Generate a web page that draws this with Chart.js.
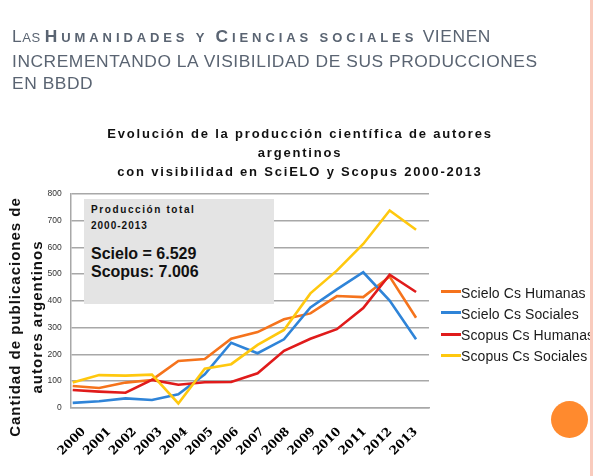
<!DOCTYPE html>
<html>
<head>
<meta charset="utf-8">
<script src="https://cdn.jsdelivr.net/npm/chart.js@4.4.0/dist/chart.umd.min.js"></script>
<style>
    html, body { margin: 0; padding: 0; background: #fff; }
    body { width: 593px; height: 476px; position: relative; overflow: hidden; font-family: "Liberation Sans", Arial, sans-serif; }
    #chart { position: absolute; left: 0; top: 0; }
    .abs { position: absolute; white-space: nowrap; line-height: 1; }
    .hdr { left: 12px; color: #5a6472; font-size: 17.4px; letter-spacing: 0.55px; }
    .hdr .sm { font-size: 13px; text-transform: uppercase; }
    .hdr b { letter-spacing: 3.9px; }
    .hdr .reg { letter-spacing: 0.6px; }
    .ttl { left: 100px; width: 400px; text-align: center; font-weight: bold; font-size: 13px; letter-spacing: 1.8px; color: #111; }
    #totals { position: absolute; left: 84px; top: 199px; width: 190px; height: 105px; background: #e4e4e4; }
    .box { font-weight: bold; color: #111; }
    #ytitle { position: absolute; left: -124px; top: 295px; width: 300px; height: 44px; line-height: 22px;
              text-align: center; font-weight: bold; font-size: 15px; letter-spacing: 1px; color: #111;
              transform: rotate(-90deg); white-space: nowrap; }
    .leg { left: 461px; font-size: 14px; color: #1a1a1a; letter-spacing: 0.1px; }
    .swatch { position: absolute; left: 441px; width: 20px; height: 3px; }
    #dot { position: absolute; left: 551px; top: 401px; width: 37px; height: 37px; border-radius: 50%; background: #ff8a2e; }
    #edge { position: absolute; left: 590px; top: 0; width: 3px; height: 476px; background: #f9cbbd; }
</style>
</head>
<body>
<canvas id="chart" width="593" height="476"></canvas>

<div class="abs hdr" style="top:28.2px"><span>L</span><span class="sm">as </span><b><span>H</span><span class="sm">umanidades y </span><span>C</span><span class="sm">iencias sociales</span></b><span class="reg"> VIENEN</span></div>
<div class="abs hdr" style="top:52.5px">INCREMENTANDO LA VISIBILIDAD DE SUS PRODUCCIONES</div>
<div class="abs hdr" style="top:75px">EN BBDD</div>

<div class="abs ttl" style="top:126.9px">Evolución de la producción científica de autores</div>
<div class="abs ttl" style="top:145.9px">argentinos</div>
<div class="abs ttl" style="top:164.5px">con visibilidad en SciELO y Scopus 2000-2013</div>

<div id="totals"></div>
<div class="abs box" style="left:91px; top:205px; font-size:10px; letter-spacing:1.6px">Producción total</div>
<div class="abs box" style="left:91px; top:220.7px; font-size:10px; letter-spacing:1px">2000-2013</div>
<div class="abs box" style="left:91px; top:246px; font-size:16px">Scielo = 6.529</div>
<div class="abs box" style="left:91px; top:264.4px; font-size:16px">Scopus: 7.006</div>

<div id="ytitle">Cantidad de publicaciones de<br>autores argentinos</div>

<div id="legend"></div>
<div id="dot"></div>
<div id="edge"></div>

<script>
// data
const years = [2000, 2001, 2002, 2003, 2004, 2005, 2006, 2007, 2008, 2009, 2010, 2011, 2012, 2013];
const yTicks = [0, 100, 200, 300, 400, 500, 600, 700, 800];

const seriesNames = ['Scielo Cs Humanas', 'Scielo Cs Sociales', 'Scopus Cs Humanas', 'Scopus Cs Sociales'];
const scieloHumanas = [81, 74, 94, 104, 175, 182, 258, 283, 331, 353, 418, 414, 491, 337];
const scieloSociales = [18, 24, 35, 29, 50, 125, 243, 204, 256, 375, 443, 507, 401, 256];
const scopusHumanas = [66, 60, 56, 104, 86, 95, 96, 129, 213, 258, 294, 373, 498, 433];
const scopusSociales = [94, 122, 120, 124, 16, 146, 163, 235, 291, 428, 513, 613, 738, 666];

const seriesColors = ['#f5731c', '#2f84d8', '#e01b1b', '#ffc80e'];
const seriesValues = [scieloHumanas, scieloSociales, scopusHumanas, scopusSociales];

function buildDatasets() {
    return seriesValues.map((values, i) => ({
        label: seriesNames[i],
        data: values.map((v, j) => ({ x: years[j], y: v })),
        borderColor: seriesColors[i],
        backgroundColor: seriesColors[i],
        borderWidth: 2.6,
        pointRadius: 0,
        tension: 0,
        order: seriesValues.length - i   // later series on top, like the original
    }));
}

function buildLegend() {
    const box = document.getElementById('legend');
    const baselines = [297.3, 318.3, 340, 361];
    box.innerHTML = seriesNames.map((name, i) => `
        <div class="swatch" style="top:${baselines[i] - 7.5}px; background:${seriesColors[i]}"></div>
        <div class="abs leg" style="top:${baselines[i] - 11.6}px">${name}</div>
    `).join('');
}

const gridGrey = '#a8a8a8';

new Chart(document.getElementById('chart'), {
    type: 'line',
    data: { datasets: buildDatasets() },
    options: {
        responsive: false,
        animation: false,
        devicePixelRatio: 1,
        layout: { padding: { left: 0, top: 194, right: 164, bottom: 0 } },
        plugins: { legend: { display: false }, tooltip: { enabled: false }, title: { display: false } },
        scales: {
            // data axis (lines); the year labels in the original sit on a slightly tighter spacing
            x: {
                type: 'linear',
                display: false,
                min: 1999.924,
                max: 2013.49
            },
            years: {
                type: 'linear',
                position: 'bottom',
                min: 1999.49,
                max: 2013.52,
                grid: { display: false, drawTicks: false },
                border: { display: true, color: gridGrey, width: 1.5 },
                afterFit: (scale) => { scale.height = 68.3; },
                afterBuildTicks: (scale) => { scale.ticks = years.map(v => ({ value: v })); },
                ticks: {
                    autoSkip: false,
                    maxRotation: 45,
                    minRotation: 45,
                    padding: 17,
                    color: '#000',
                    font: { family: '"DejaVu Serif"', weight: 'bold', size: 12 },
                    callback: (v) => String(v)
                }
            },
            y: {
                min: 0,
                max: 800,
                grid: { color: gridGrey, lineWidth: 1.5, drawTicks: false },
                border: { display: true, color: gridGrey, width: 1.5 },
                afterFit: (scale) => { scale.width = 70.7; },
                afterBuildTicks: (scale) => { scale.ticks = yTicks.map(v => ({ value: v })); },
                ticks: {
                    padding: 9,
                    color: '#333',
                    font: { family: '"Liberation Sans"', size: 8.5 }
                }
            }
        }
    }
});

buildLegend();
</script>
</body>
</html>
